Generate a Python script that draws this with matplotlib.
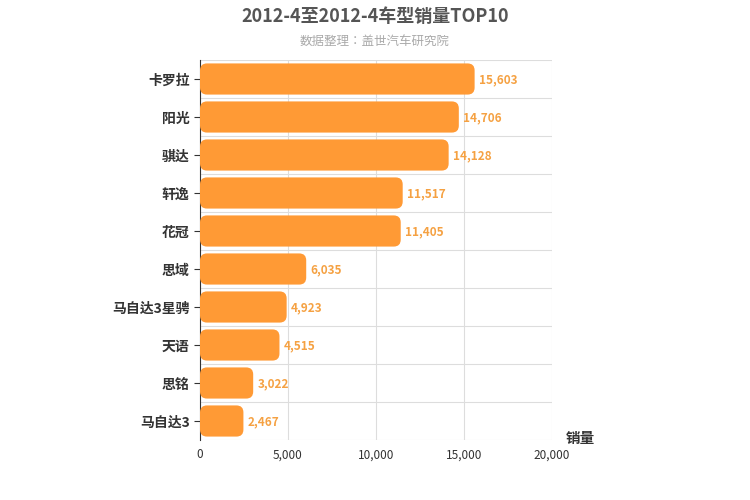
import matplotlib
matplotlib.use("Agg")
import matplotlib.pyplot as plt
from matplotlib import font_manager
from matplotlib.patches import FancyBboxPatch

cjk = [f.name for f in font_manager.fontManager.ttflist if "CJK" in f.name]
pref = [n for n in ["Noto Sans CJK SC", "Noto Sans CJK JP", "Noto Sans CJK TC", "Noto Sans CJK KR"] if n in cjk] or cjk
plt.rcParams['font.family'] = 'sans-serif'
plt.rcParams['font.sans-serif'] = pref[:1] + ["DejaVu Sans"]

categories = ["卡罗拉", "阳光", "骐达", "轩逸", "花冠", "思域", "马自达3星骋", "天语", "思铭", "马自达3"]
values = [15603, 14706, 14128, 11517, 11405, 6035, 4923, 4515, 3022, 2467]
xticks = [0, 5000, 10000, 15000, 20000]
xticklabels = ["0", "5,000", "10,000", "15,000", "20,000"]

fig = plt.figure(figsize=(7.5, 5), dpi=100)
ax = fig.add_axes([200/750, 60/500, 352/750, 380/500])
n = len(categories)
ax.set_xlim(0, 20000)
ax.set_ylim(n - 0.5, -0.5)
ux = 20000/352; uy = n/380
h = 0.82
for i, v in enumerate(values):
    p = FancyBboxPatch((0, i - h/2), v, h,
                       boxstyle="round,pad=0,rounding_size=%f" % (7*ux),
                       mutation_aspect=uy/ux, fc="#ff9a35", ec="none", zorder=3)
    ax.add_patch(p)
    ax.text(v + 250, i + 0.03, f"{v:,}", va="center", ha="left", color="#f5a142",
            fontsize=8.5, fontweight="bold", zorder=4)
ax.set_yticks(range(n))
ax.set_yticklabels(categories, fontsize=10, fontweight="bold", color="#333")
ax.set_xticks(xticks)
ax.set_xticklabels(xticklabels, fontsize=8.5, color="#333")
for x in xticks:
    ax.axvline(x, color="#dddddd", lw=0.8, zorder=0)
for y in range(n + 1):
    ax.axhline(y - 0.5, color="#dddddd", lw=0.8, zorder=0)
for s in ["top", "right", "bottom"]:
    ax.spines[s].set_visible(False)
ax.spines["left"].set_color("#333")
ax.tick_params(axis="x", length=0, pad=6)
ax.tick_params(axis="y", length=4, color="#333")
fig.text(580/750, 1-438/500, "销量", fontsize=10.5, fontweight="bold", color="#333", ha="center", va="center")
fig.text(0.5, 1-16/500, "2012-4至2012-4车型销量TOP10", fontsize=13, fontweight="bold", color="#555", ha="center", va="center")
fig.text(0.5, 1-41/500, "数据整理：盖世汽车研究院", fontsize=9, color="#aaa", ha="center", va="center")
fig.savefig("out.png", dpi=100)
